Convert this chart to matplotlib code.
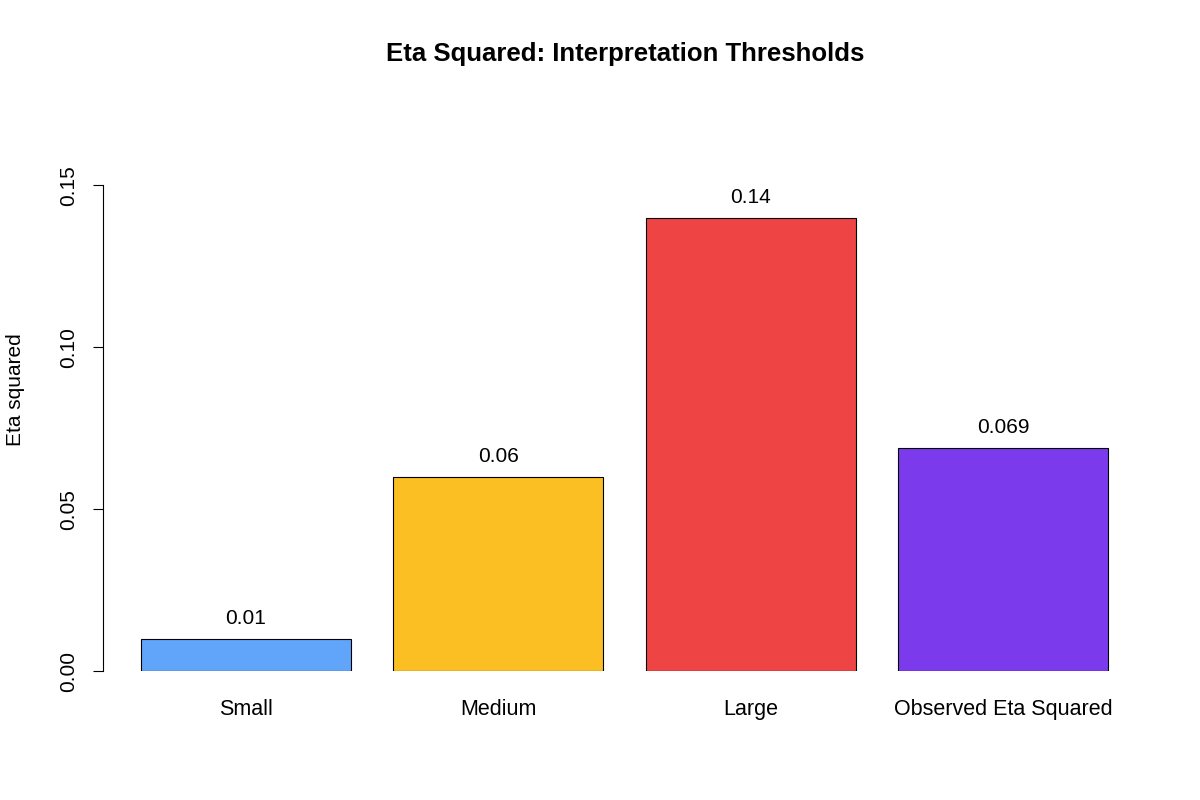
import numpy as np
import matplotlib
matplotlib.use("Agg")
import matplotlib.pyplot as plt

categories = ["Small", "Medium", "Large", "Observed Eta Squared"]
values = [0.01, 0.06, 0.14, 0.069]
labels = ["0.01", "0.06", "0.14", "0.069"]
colors = ["#60A5FA", "#FBBF24", "#EF4444", "#7C3AED"]
yticks = [0.00, 0.05, 0.10, 0.15]
ytick_labels = ["0.00", "0.05", "0.10", "0.15"]

plt.rcParams["font.family"] = ["Liberation Sans", "DejaVu Sans"]

fig = plt.figure(figsize=(12, 8), dpi=100)
# axes placed in pixel terms: left 103, right 1146, bottom y=0 at 671
ax = fig.add_axes([103 / 1200, 129 / 800, (1146 - 103) / 1200, (671 - 153) / 800])

x = 0.7 + 1.2 * np.arange(len(categories))
ax.bar(x, values, width=1.0, color=colors, edgecolor="black", linewidth=0.8)
for xi, v, lab in zip(x, values, labels):
    ax.annotate(lab, (xi, v), xytext=(0, 8), textcoords="offset points",
                ha="center", va="bottom", fontsize=15)

ax.set_xlim(0.02, 4.98)
ax.set_ylim(0, 0.16)
for s in ["top", "right", "bottom"]:
    ax.spines[s].set_visible(False)
ax.spines["left"].set_bounds(0, 0.15)
ax.spines["left"].set_linewidth(0.8)

ax.set_yticks(yticks)
ax.set_yticklabels(ytick_labels, rotation=90, va="center", fontsize=15)
ax.tick_params(axis="y", length=7, width=0.8, pad=11)
ax.set_xticks(x)
ax.set_xticklabels(categories, fontsize=15.5)
ax.tick_params(axis="x", length=0, pad=20)

fig.text(16 / 1200, 1 - 390 / 800, "Eta squared", rotation=90, ha="center", va="center", fontsize=15)
fig.text(625 / 1200, 1 - 54 / 800, "Eta Squared: Interpretation Thresholds",
         ha="center", va="center", fontsize=18.5, fontweight="bold")

fig.savefig("out.png", dpi=100)
